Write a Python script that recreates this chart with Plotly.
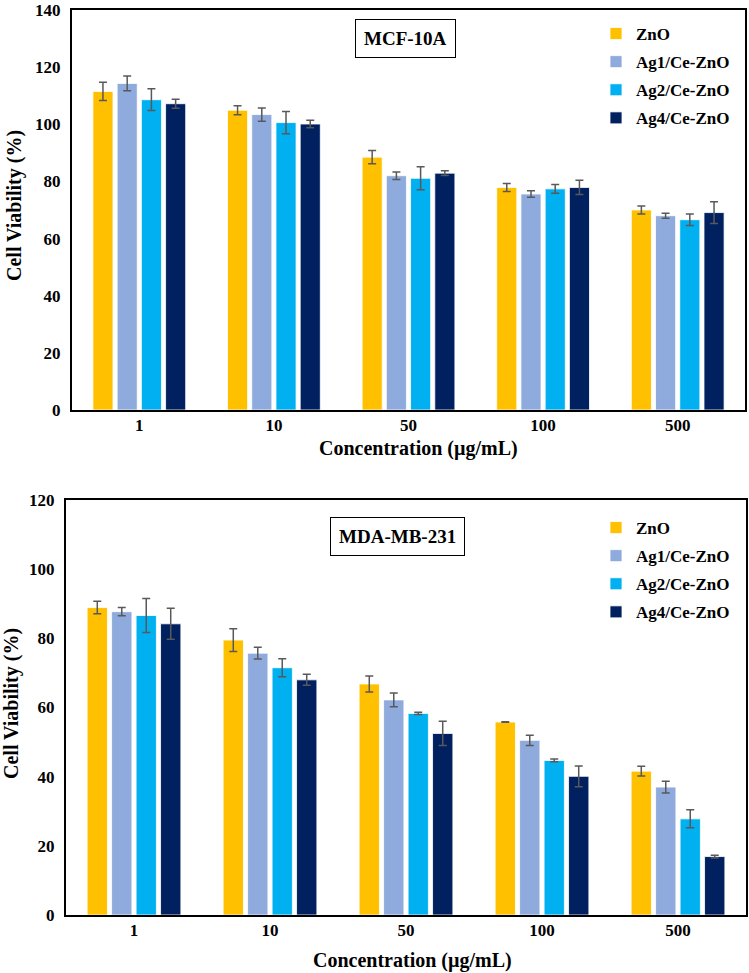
import plotly.graph_objects as go

concentrations = ["1", "10", "50", "100", "500"]
series_names = ["ZnO", "Ag1/Ce-ZnO", "Ag2/Ce-ZnO", "Ag4/Ce-ZnO"]
colors = ["#FFC000", "#8FAADC", "#00B0F0", "#002060"]

# MCF-10A
mcf_zno = [111.5, 104.9, 88.5, 77.9, 70.0]
mcf_ag1 = [114.3, 103.4, 82.0, 75.6, 68.0]
mcf_ag2 = [108.6, 100.6, 81.1, 77.4, 66.6]
mcf_ag4 = [107.2, 100.1, 82.9, 77.9, 69.1]
mcf_zno_err = [3.2, 1.6, 2.3, 1.4, 1.4]
mcf_ag1_err = [2.6, 2.3, 1.3, 1.1, 0.9]
mcf_ag2_err = [3.8, 3.9, 4.0, 1.5, 2.0]
mcf_ag4_err = [1.6, 1.3, 0.8, 2.5, 3.8]

# MDA-MB-231
mda_zno = [88.9, 79.5, 66.8, 55.8, 41.6]
mda_ag1 = [87.7, 75.7, 62.2, 50.5, 37.0]
mda_ag2 = [86.6, 71.5, 58.3, 44.7, 27.8]
mda_ag4 = [84.2, 68.0, 52.5, 40.1, 16.9]
mda_zno_err = [1.8, 3.3, 2.3, 0.1, 1.4]
mda_ag1_err = [1.2, 1.7, 2.0, 1.5, 1.7]
mda_ag2_err = [4.9, 2.6, 0.3, 0.4, 2.6]
mda_ag4_err = [4.5, 1.6, 3.5, 3.0, 0.4]

top_vals = [mcf_zno, mcf_ag1, mcf_ag2, mcf_ag4]
top_errs = [mcf_zno_err, mcf_ag1_err, mcf_ag2_err, mcf_ag4_err]
bot_vals = [mda_zno, mda_ag1, mda_ag2, mda_ag4]
bot_errs = [mda_zno_err, mda_ag1_err, mda_ag2_err, mda_ag4_err]

FONT = "Liberation Serif"
fig = go.Figure()

for i, name in enumerate(series_names):
    fig.add_trace(go.Bar(
        x=concentrations, y=top_vals[i], name="<b>" + name + "</b>", marker_color=colors[i],
        marker_line=dict(color="white", width=0.8),
        error_y=dict(type="data", array=top_errs[i], color="#595959", thickness=1.5, width=4),
        xaxis="x", yaxis="y", legend="legend", legendgroup="t" + str(i)))
for i, name in enumerate(series_names):
    fig.add_trace(go.Bar(
        x=concentrations, y=bot_vals[i], name="<b>" + name + "</b>", marker_color=colors[i],
        marker_line=dict(color="white", width=0.8),
        error_y=dict(type="data", array=bot_errs[i], color="#595959", thickness=1.5, width=4),
        xaxis="x2", yaxis="y2", legend="legend2", legendgroup="b" + str(i)))

W = 749.0
H = 973.0
axis_font = dict(family=FONT, size=17, color="black")
title_font = dict(family=FONT, size=20, color="black")
leg_font = dict(family=FONT, size=17, color="black")

common_x = dict(showline=True, linecolor="black", linewidth=2, mirror=True, ticks="",
                tickfont=axis_font, showgrid=False, zeroline=False, automargin=False,
                tickprefix="<b>", ticksuffix="</b>", ticklabelstandoff=-1,
                ticklabeloverflow="allow")
common_y = dict(showline=True, linecolor="black", linewidth=2, mirror=True, ticks="",
                tickfont=axis_font, showgrid=False, zeroline=False, automargin=False,
                tickprefix="<b>", ticksuffix="</b>", ticklabelstandoff=6,
                ticklabeloverflow="allow")


def px_(v):
    return v / W


def py(v):
    return 1 - v / H


def note(text, x, y, font, **kw):
    return dict(text=text, xref="paper", yref="paper", x=px_(x), y=py(y),
                xanchor="center", yanchor="middle", showarrow=False, font=font, **kw)


box_font = dict(family=FONT, size=19, color="black")

fig.update_layout(
    width=int(W), height=int(H),
    margin=dict(l=0, r=0, t=0, b=0),
    paper_bgcolor="white", plot_bgcolor="white",
    barmode="group", bargap=0.28, bargroupgap=0.17,
    font=dict(family=FONT, color="black"),
    xaxis=dict(domain=[px_(72), px_(745)], anchor="y", **common_x),
    yaxis=dict(domain=[py(410), py(10)], anchor="x", range=[0, 140], dtick=20, **common_y),
    xaxis2=dict(domain=[px_(66), px_(746)], anchor="y2", **common_x),
    yaxis2=dict(domain=[py(915), py(500)], anchor="x2", range=[0, 120], dtick=20, **common_y),
    legend=dict(x=px_(596), y=py(16), xanchor="left", yanchor="top",
                font=leg_font, bgcolor="rgba(0,0,0,0)",
                traceorder="grouped", tracegroupgap=3, itemwidth=30),
    legend2=dict(x=px_(596), y=py(510), xanchor="left", yanchor="top",
                 font=leg_font, bgcolor="rgba(0,0,0,0)",
                 traceorder="grouped", tracegroupgap=3, itemwidth=30),
    annotations=[
        note("<b>MCF-10A</b>", 405, 38.5, box_font,
             bordercolor="black", borderwidth=1, borderpad=8, bgcolor="white"),
        note("<b>MDA-MB-231</b>", 397, 536, box_font,
             bordercolor="black", borderwidth=1, borderpad=8, bgcolor="white"),
        note("<b>Concentration (µg/mL)</b>", 418, 448, title_font),
        note("<b>Concentration (µg/mL)</b>", 412, 960, title_font),
        note("<b>Cell Viability (%)</b>", 15, 206, title_font, textangle=-90),
        note("<b>Cell Viability (%)</b>", 11, 704, title_font, textangle=-90),
    ],
)

fig.write_html("out.html", config={"displayModeBar": False},
               post_script="document.body.style.margin='0';")
